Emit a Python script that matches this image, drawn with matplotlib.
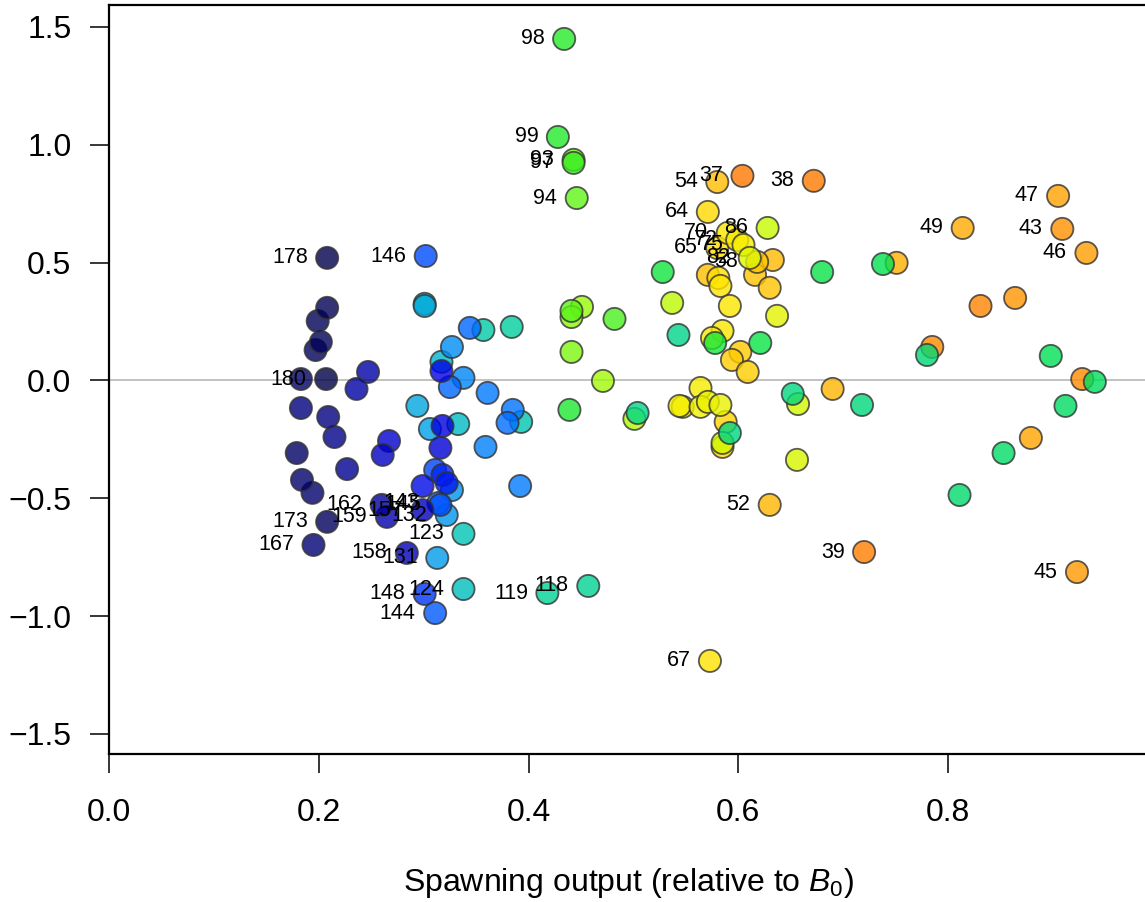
import numpy as np
import matplotlib
matplotlib.use("Agg")
import matplotlib.pyplot as plt
from matplotlib.colors import LinearSegmentedColormap

plt.rcParams['font.family'] = ['Liberation Sans', 'DejaVu Sans']
plt.rcParams['mathtext.fontset'] = 'custom'
plt.rcParams['mathtext.rm'] = 'Liberation Sans'
plt.rcParams['mathtext.it'] = 'Liberation Sans:italic'

# point id (drives colour), spawning output, y value
ids = [37, 38, 39, 40, 41, 42, 43, 44, 45, 46, 47, 48, 49, 50, 51, 52, 53, 54, 55, 56,
       57, 58, 59, 60, 61, 62, 63, 64, 65, 66, 67, 68, 69, 70, 71, 72, 73, 74, 75, 76,
       77, 78, 79, 80, 81, 82, 83, 84, 85, 86, 87, 88, 89, 90, 91, 92, 93, 94, 95, 96,
       97, 98, 99, 100, 101, 102, 103, 104, 105, 106, 107, 108, 109, 110, 111, 112, 113,
       114, 115, 116, 118, 119, 120, 121, 122, 123, 124, 125, 126, 127, 128, 129, 130,
       131, 132, 133, 134, 135, 136, 137, 138, 139, 140, 141, 142, 143, 144, 145, 146,
       147, 148, 149, 150, 151, 152, 153, 154, 155, 156, 157, 158, 159, 160, 161, 162,
       163, 164, 165, 166, 167, 168, 169, 170, 171, 172, 173, 174, 175, 176, 180, 178]
spawn = [0.604, 0.672, 0.720, 0.831, 0.785, 0.928, 0.909, 0.864, 0.923, 0.932, 0.905, 0.879,
         0.814, 0.751, 0.690, 0.630, 0.633, 0.580, 0.571, 0.616, 0.630, 0.618, 0.602, 0.594,
         0.609, 0.588, 0.585, 0.571, 0.580, 0.581, 0.573, 0.583, 0.592, 0.590, 0.585, 0.599,
         0.575, 0.564, 0.605, 0.547, 0.544, 0.564, 0.571, 0.583, 0.637, 0.611, 0.656, 0.657,
         0.585, 0.628, 0.537, 0.501, 0.471, 0.451, 0.441, 0.441, 0.443, 0.446, 0.441, 0.482,
         0.443, 0.434, 0.428, 0.439, 0.578, 0.528, 0.621, 0.680, 0.738, 0.898, 0.940, 0.912,
         0.853, 0.811, 0.780, 0.718, 0.652, 0.592, 0.504, 0.543, 0.457, 0.418, 0.384, 0.357,
         0.393, 0.338, 0.338, 0.333, 0.317, 0.301, 0.301, 0.294, 0.306, 0.313, 0.322, 0.327,
         0.327, 0.338, 0.359, 0.392, 0.361, 0.385, 0.380, 0.344, 0.325, 0.314, 0.311, 0.316,
         0.302, 0.311, 0.301, 0.318, 0.322, 0.299, 0.317, 0.318, 0.316, 0.267, 0.261, 0.299,
         0.284, 0.265, 0.247, 0.236, 0.260, 0.227, 0.215, 0.209, 0.183, 0.195, 0.194, 0.184,
         0.179, 0.183, 0.197, 0.208, 0.202, 0.199, 0.208, 0.207, 0.208]
yval = [0.868, 0.847, -0.728, 0.316, 0.142, 0.006, 0.643, 0.350, -0.813, 0.541, 0.783, -0.244,
        0.647, 0.499, -0.036, -0.528, 0.511, 0.842, 0.448, 0.448, 0.393, 0.503, 0.121, 0.087,
        0.036, -0.176, -0.282, 0.715, 0.562, 0.435, -1.190, 0.401, 0.316, 0.626, 0.210, 0.596,
        0.180, -0.032, 0.575, -0.112, -0.108, -0.112, -0.091, -0.104, 0.274, 0.520, -0.337, -0.100,
        -0.265, 0.647, 0.329, -0.163, -0.002, 0.312, 0.269, 0.121, 0.936, 0.774, 0.295, 0.261,
        0.923, 1.449, 1.033, -0.125, 0.159, 0.460, 0.159, 0.460, 0.494, 0.104, -0.006, -0.108,
        -0.308, -0.486, 0.108, -0.104, -0.057, -0.223, -0.138, 0.193, -0.872, -0.902, 0.227, 0.214,
        -0.176, -0.651, -0.885, -0.185, 0.079, 0.325, 0.316, -0.108, -0.206, -0.753, -0.571, -0.465,
        0.142, 0.011, -0.282, -0.448, -0.053, -0.125, -0.180, 0.223, -0.028, -0.520, -0.987, -0.528,
        0.528, -0.380, -0.906, -0.401, -0.435, -0.448, 0.040, -0.193, -0.286, -0.257, -0.316, -0.550,
        -0.732, -0.579, 0.036, -0.036, -0.528, -0.376, -0.240, -0.155, -0.117, -0.698, -0.477, -0.422,
        -0.308, 0.006, 0.129, -0.600, 0.163, 0.252, 0.308, 0.006, 0.520]
labelled = [37, 38, 39, 43, 45, 46, 47, 49, 52, 54, 58, 64, 65, 67, 70, 72, 75, 82, 86,
            93, 94, 97, 98, 99, 118, 119, 123, 124, 131, 132, 143, 144, 145, 146, 148,
            157, 158, 159, 162, 167, 173, 178, 180]

# colour ramp along the id
anchor_id = [37, 45, 52, 60, 67, 78, 86, 94, 98, 105, 112, 119, 124, 130, 138, 146, 152, 160, 168, 180]
anchor_col = ['#ff7800', '#ff9a00', '#ffb800', '#ffcc00', '#ffe400', '#f2f000', '#c8fa00',
              '#64f514', '#28eb28', '#00e150', '#00d778', '#00d296', '#00bebe', '#00a0e6',
              '#0078ff', '#0050ff', '#0000e6', '#0000aa', '#00006e', '#000046']
lo, hi = anchor_id[0], anchor_id[-1]
cmap = LinearSegmentedColormap.from_list(
    'ramp', [((a - lo) / (hi - lo), c) for a, c in zip(anchor_id, anchor_col)])

fig = plt.figure(figsize=(11.45, 9.02), dpi=100)
ax = fig.add_axes([109 / 1145, 148 / 902, (1150 - 109) / 1145, (754 - 5) / 902])

ax.axhline(0, color='#bdbdbd', lw=1.3, zorder=1)

cols = cmap((np.array(ids) - lo) / (hi - lo))
cols[:, 3] = 0.8
ax.scatter(spawn, yval, s=255, c=cols, edgecolors=(0.2, 0.2, 0.2, 0.8), linewidths=1.3, zorder=3)

for i, v in enumerate(ids):
    if v in labelled:
        ax.annotate(str(v), (spawn[i], yval[i]), xytext=(-14, 0), textcoords='offset points',
                    ha='right', va='center', fontsize=15.5, zorder=4)

ax.set_xlim(0, (1150 - 109) / 1048.75)
ax.set_ylim(-1.585, 1.593)
ax.set_xticks([0.0, 0.2, 0.4, 0.6, 0.8])
ax.set_xticklabels(['0.0', '0.2', '0.4', '0.6', '0.8'])
ax.set_yticks([-1.5, -1.0, -0.5, 0.0, 0.5, 1.0, 1.5])
ax.set_yticklabels(['\u22121.5', '\u22121.0', '\u22120.5', '0.0', '0.5', '1.0', '1.5'])
ax.tick_params(direction='out', length=14, width=1.1, labelsize=23)
ax.tick_params(axis='x', pad=18)
ax.tick_params(axis='y', pad=13)
for sp in ['left', 'bottom', 'top', 'right']:
    ax.spines[sp].set_linewidth(1.6)

fig.text(628 / 1145, 1 - 883 / 902, 'Spawning output (relative to $B_0$)',
         ha='center', va='center', fontsize=23)

fig.savefig('out.png', dpi=100)
